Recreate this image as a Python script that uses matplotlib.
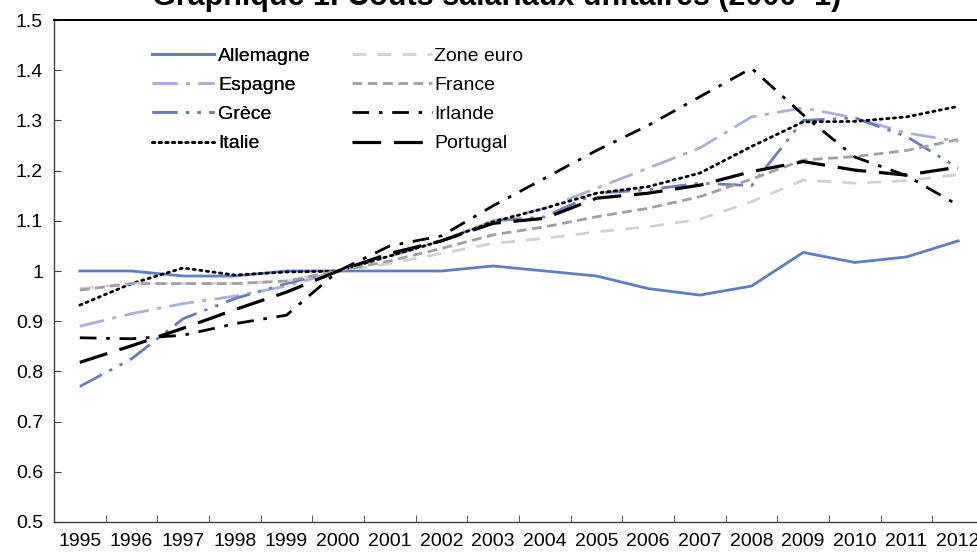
import numpy as np
import matplotlib.pyplot as plt
from matplotlib import font_manager

# Coûts salariaux unitaires, base 2000 = 1
years = [str(y) for y in range(1995, 2013)]

allemagne = [1.00, 1.00, 0.99, 0.99, 1.00, 1.00, 1.00, 1.00, 1.01, 1.00,
             0.99, 0.965, 0.952, 0.97, 1.037, 1.017, 1.028, 1.06]
espagne = [0.89, 0.915, 0.935, 0.95, 0.97, 1.00, 1.03, 1.06, 1.10, 1.125,
           1.165, 1.205, 1.245, 1.307, 1.325, 1.305, 1.275, 1.258]
grece = [0.77, 0.825, 0.905, 0.945, 0.975, 1.00, 1.03, 1.06, 1.10, 1.108,
         1.155, 1.162, 1.175, 1.17, 1.30, 1.305, 1.268, 1.205]
italie = [0.932, 0.975, 1.006, 0.992, 0.998, 1.00, 1.03, 1.06, 1.098, 1.125,
          1.155, 1.168, 1.195, 1.248, 1.297, 1.298, 1.307, 1.328]
zone_euro = [0.965, 0.975, 0.975, 0.975, 0.98, 1.00, 1.015, 1.035, 1.055, 1.065,
             1.078, 1.088, 1.103, 1.138, 1.181, 1.175, 1.18, 1.192]
france = [0.962, 0.975, 0.975, 0.975, 0.98, 1.00, 1.02, 1.045, 1.072, 1.088,
          1.108, 1.125, 1.148, 1.183, 1.221, 1.228, 1.24, 1.262]
irlande = [0.867, 0.865, 0.872, 0.895, 0.912, 1.00, 1.05, 1.07, 1.13, 1.185,
           1.24, 1.29, 1.347, 1.404, 1.311, 1.227, 1.19, 1.131]
portugal = [0.818, 0.851, 0.886, 0.923, 0.958, 1.00, 1.035, 1.06, 1.095, 1.105,
            1.145, 1.155, 1.171, 1.198, 1.218, 1.201, 1.191, 1.207]

installed = {f.name for f in font_manager.fontManager.ttflist}
if 'Liberation Sans Narrow' in installed:
    fam, fs = 'Liberation Sans Narrow', 16
else:
    fam, fs = 'Liberation Sans', 14
plt.rcParams['font.family'] = [fam, 'DejaVu Sans']
em = fs * 100 / 72  # font size in pixels

fig = plt.figure(figsize=(9.77, 5.53), dpi=100)
ax = fig.add_axes([54 / 977, 31 / 553, 930 / 977, 502 / 553])

x = np.arange(len(years))
lw = 2.0
l_all, = ax.plot(x, allemagne, color='#5b7fc0', lw=lw, label='Allemagne')
l_esp, = ax.plot(x, espagne, color='#aab0d8', lw=lw, label='Espagne',
                 dashes=(9, 3, 1.5, 3))
l_gre, = ax.plot(x, grece, color='#6c7cbc', lw=lw, label='Grèce',
                 dashes=(9, 3, 1.2, 3, 1.2, 3))
l_ita, = ax.plot(x, italie, color='black', lw=lw, label='Italie',
                 dashes=(0.8, 1.6), dash_capstyle='round')
l_ze, = ax.plot(x, zone_euro, color='#d2d2d2', lw=lw, label='Zone euro',
                dashes=(5, 4))
l_fr, = ax.plot(x, france, color='#a0a0a0', lw=lw, label='France',
                dashes=(3.5, 2))
l_irl, = ax.plot(x, irlande, color='black', lw=lw, label='Irlande',
                 dashes=(6, 3.5, 1.3, 3.5))
l_por, = ax.plot(x, portugal, color='black', lw=lw + 0.3, label='Portugal',
                 dashes=(9, 4))

ax.set_xlim(-0.5, len(years) - 0.5)
ax.set_ylim(0.5, 1.5)
yt = np.arange(0.5, 1.51, 0.1)
ax.set_yticks(yt)
ax.set_yticklabels(['%g' % round(v, 1) for v in yt])
ax.set_xticks(x)
ax.set_xticklabels(years)
ax.set_xticks(np.arange(-0.5, len(years), 1), minor=True)
ax.tick_params(axis='x', which='major', length=0, pad=8, labelsize=fs)
ax.tick_params(axis='x', which='minor', direction='in', length=5,
               color='#404040')
ax.tick_params(axis='y', direction='in', length=5, pad=8, labelsize=fs,
               color='#404040')

for s in ['left', 'bottom']:
    ax.spines[s].set_color('#404040')
    ax.spines[s].set_linewidth(1.0)
ax.spines['top'].set_color('black')
ax.spines['top'].set_linewidth(1.4)
ax.spines['right'].set_visible(False)

leg1 = fig.legend(handles=[l_all, l_esp, l_gre, l_ita], loc='upper left',
                  bbox_to_anchor=(152 / 977, 1 - 47 / 553), frameon=False,
                  fontsize=fs, handlelength=62 / em, handletextpad=4 / em,
                  labelspacing=0.6, borderpad=0, borderaxespad=0)
fig.add_artist(leg1)
fig.legend(handles=[l_ze, l_fr, l_irl, l_por], loc='upper left',
           bbox_to_anchor=(352 / 977, 1 - 47 / 553), frameon=False,
           fontsize=fs, handlelength=80 / em, handletextpad=2 / em,
           labelspacing=0.6, borderpad=0, borderaxespad=0)

# title is cropped at the top edge of the picture, as in the source image
fig.text(497 / 977, 1 - 5 / 553, 'Graphique 1. Coûts salariaux unitaires (2000=1)',
         ha='center', va='baseline', fontsize=22, fontweight='bold')

fig.savefig('out.png', dpi=100)
